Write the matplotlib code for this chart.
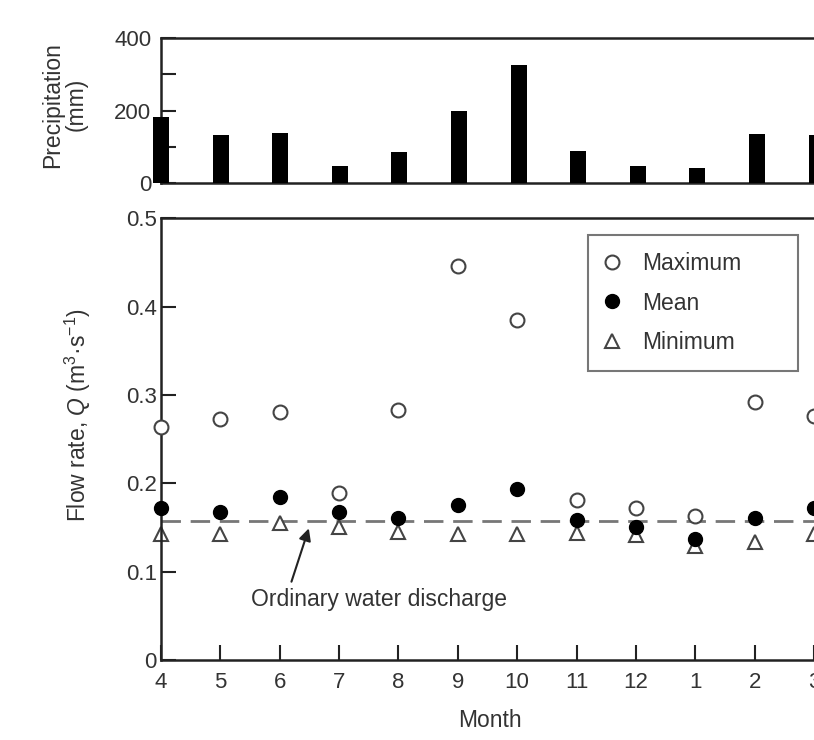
import numpy as np
import matplotlib
matplotlib.use("Agg")
import matplotlib.pyplot as plt

plt.rcParams['font.family'] = ['Liberation Sans', 'DejaVu Sans']
plt.rcParams['mathtext.fontset'] = 'custom'
plt.rcParams['mathtext.rm'] = 'Liberation Sans'
plt.rcParams['mathtext.it'] = 'Liberation Sans:italic'

# data
months = ['4', '5', '6', '7', '8', '9', '10', '11', '12', '1', '2', '3']
precip = [182, 132, 139, 49, 86, 199, 326, 90, 49, 41, 137, 132]
q_max = [0.264, 0.273, 0.281, 0.189, 0.283, 0.446, 0.385, 0.181, 0.172, 0.163, 0.292, 0.276]
q_mean = [0.172, 0.168, 0.184, 0.168, 0.161, 0.176, 0.194, 0.158, 0.150, 0.137, 0.161, 0.172]
q_min = [0.143, 0.143, 0.155, 0.150, 0.145, 0.143, 0.143, 0.144, 0.141, 0.129, 0.134, 0.143]
ordinary_q = 0.157

txt = '#333333'
fs = 16.5
x = np.arange(len(months))
xmax = 10.957

fig = plt.figure(figsize=(8.14, 7.4), dpi=100)
left = 161 / 814

# precipitation panel
ax1 = fig.add_axes([left, 1 - 183.3 / 740, 1 - left, (183.3 - 38) / 740])
ax1.bar(x, precip, width=0.27, color='black', clip_on=False, zorder=3)
ax1.set_xlim(0, xmax)
ax1.set_ylim(0, 400)
ax1.set_yticks([0, 100, 200, 300, 400])
ax1.set_yticklabels(['0', '', '200', '', '400'])
ax1.set_xticks([])
ax1.spines['right'].set_visible(False)
for s in ['left', 'top', 'bottom']:
    ax1.spines[s].set_linewidth(1.8)
    ax1.spines[s].set_color('#222222')
ax1.tick_params(axis='y', direction='in', length=11, width=1.5, pad=7,
                labelsize=16, labelcolor=txt, color='#222222')
ax1.set_ylabel('Precipitation\n(mm)', fontsize=fs, color=txt, linespacing=1.0)
ax1.yaxis.set_label_coords(-0.113, 0.54)

# flow rate panel
ax2 = fig.add_axes([left, 1 - 660 / 740, 1 - left, (660 - 218.3) / 740])
ax2.axhline(ordinary_q, color='#777777', lw=2, dashes=(7, 3.5), zorder=1)
ax2.plot(x, q_max, ls='none', marker='o', ms=10, mfc='white', mec='#444444',
         mew=1.5, label='Maximum', clip_on=False, zorder=3)
ax2.plot(x, q_mean, ls='none', marker='o', ms=10, mfc='black', mec='black',
         label='Mean', clip_on=False, zorder=4)
ax2.plot(x, q_min, ls='none', marker='^', ms=10, mfc='white', mec='#444444',
         mew=1.5, label='Minimum', clip_on=False, zorder=2)
ax2.set_xlim(0, xmax)
ax2.set_ylim(0, 0.5)
ax2.set_xticks(x)
ax2.set_xticklabels(months)
ax2.set_yticks([0, 0.1, 0.2, 0.3, 0.4, 0.5])
ax2.set_yticklabels(['0', '0.1', '0.2', '0.3', '0.4', '0.5'])
ax2.spines['right'].set_visible(False)
for s in ['left', 'top', 'bottom']:
    ax2.spines[s].set_linewidth(1.8)
    ax2.spines[s].set_color('#222222')
ax2.tick_params(axis='both', direction='in', length=11, width=1.5,
                labelsize=16, labelcolor=txt, color='#222222')
ax2.tick_params(axis='y', pad=3)
ax2.tick_params(axis='x', pad=9)
ax2.set_ylabel('Flow rate, $Q$ (m$^{3}$·s$^{-1}$)', fontsize=fs, color=txt)
ax2.yaxis.set_label_coords(-0.104, 0.554)
ax2.set_xlabel('Month', fontsize=fs, color=txt)
ax2.xaxis.set_label_coords(0.504, -0.110)

ax2.annotate('Ordinary water discharge', xy=(2.49, 0.149), xytext=(3.67, 0.068),
             fontsize=fs, color=txt, ha='center', va='center',
             arrowprops=dict(arrowstyle='-|>', color='#222222', lw=1.5,
                             relpos=(0.15, 1.0), shrinkA=3, shrinkB=0,
                             mutation_scale=18))

leg = ax2.legend(loc='upper left',
                 bbox_to_anchor=((588 - 161) / 653, (660 - 372) / 442,
                                 210 / 653, 137 / 442),
                 mode='expand', borderaxespad=0, frameon=True, fancybox=False,
                 fontsize=fs, handlelength=0.6, handletextpad=1.0,
                 borderpad=0.75, labelspacing=0.7)
leg.get_frame().set_edgecolor('#555555')
leg.get_frame().set_linewidth(1.5)
for t in leg.get_texts():
    t.set_color(txt)

fig.savefig('out.png', dpi=100)
